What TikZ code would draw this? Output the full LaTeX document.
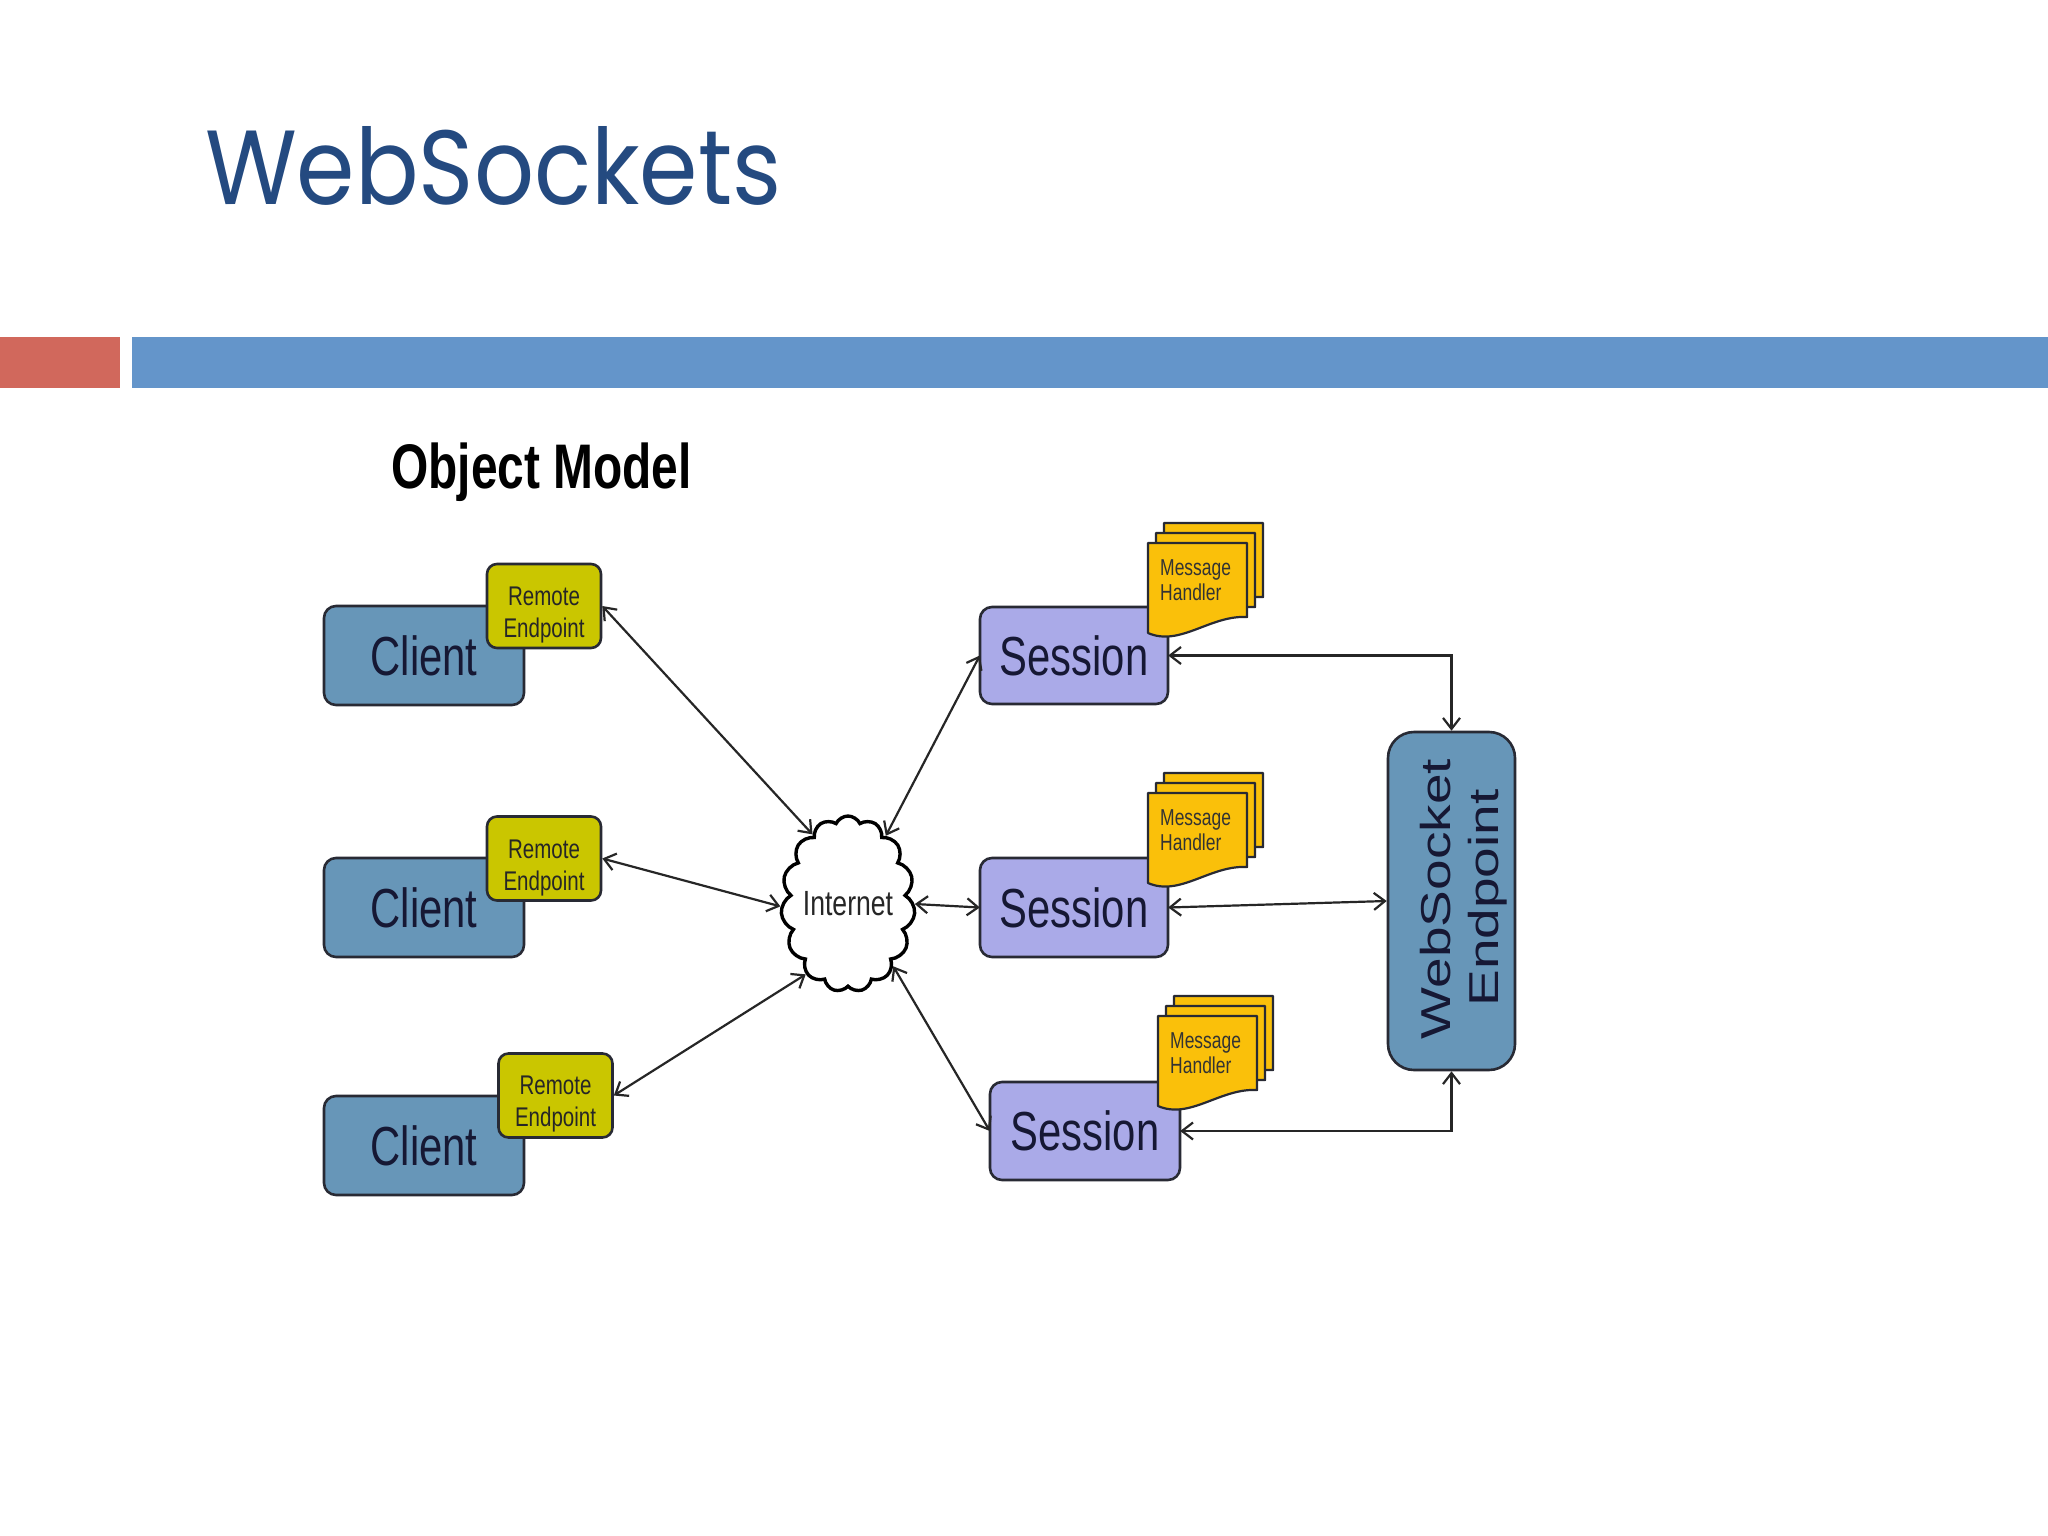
\documentclass[tikz,border=0pt]{standalone}
\usepackage{fontspec}
\usepackage{graphicx}
\usetikzlibrary{arrows.meta,shapes.symbols,calc}
\newfontfamily\titlefont{Poppins}
\newfontfamily\nf[FakeStretch=0.76]{Liberation Sans}
\newfontfamily\wf{Liberation Sans}
\definecolor{titleblue}{RGB}{36,74,128}
\definecolor{barred}{RGB}{209,104,92}
\definecolor{barblue}{RGB}{100,149,202}
\definecolor{steel}{RGB}{103,150,184}
\definecolor{lav}{RGB}{170,170,232}
\definecolor{olive}{RGB}{202,198,0}
\definecolor{amber}{RGB}{250,192,10}
\definecolor{edge}{RGB}{40,42,52}
\definecolor{ink}{RGB}{22,24,52}
\begin{document}
\begin{tikzpicture}[x=1pt,y=-1pt,
  box/.style={draw=edge, line width=2.6pt, rounded corners=12pt},
  clientbox/.style={box, fill=steel},
  sessbox/.style={box, fill=lav},
  rebox/.style={box, fill=olive, rounded corners=10pt},
  mhsheet/.style={draw=edge, line width=2.2pt, fill=amber, line join=round},
  bigtxt/.style={inner sep=0pt, text=ink, font=\nf\fontsize{55}{60}\selectfont},
  retxt/.style={inner sep=0pt, text=black!85, font=\nf\fontsize{27}{30}\selectfont, anchor=base},
  mhtxt/.style={inner sep=0pt, text=black!80, font=\nf\fontsize{23}{26}\selectfont, anchor=base west},
  wstxt/.style={inner sep=0pt, text=ink, rotate=90, anchor=base},
  conn/.style={draw=black!85, line width=2.2pt,
    {Straight Barb[length=11pt,width=17pt,line width=2.2pt]}-{Straight Barb[length=11pt,width=17pt,line width=2.2pt]}}
]
\fill[white] (0,0) rectangle (2048,1536);
\useasboundingbox (0,0) rectangle (2048,1536);

% title and bars
\node[inner sep=0pt, anchor=base west, text=titleblue] (title) at (205,204)
  {\resizebox{576pt}{78pt}{\titlefont WebSockets}};
\fill[barred] (0,337) rectangle (120,388);
\fill[barblue] (132,337) rectangle (2048,388);

\node[inner sep=0pt, anchor=base west, text=black, font=\nf\bfseries\fontsize{63}{70}\selectfont] (om) at (391,488) {Object Model};

% clients
\draw[clientbox] (324,606) rectangle (524,705);
\draw[clientbox] (324,858) rectangle (524,957);
\draw[clientbox] (324,1096) rectangle (524,1195);
\node[bigtxt] (c1) at (424,656) {Client};
\node[bigtxt] (c2) at (424,908) {Client};
\node[bigtxt] (c3) at (424,1146) {Client};

% remote endpoints
\node[rebox, minimum width=114pt, minimum height=84pt, inner sep=0pt] (re1) at (544,606) {};
\node[rebox, minimum width=114pt, minimum height=84pt, inner sep=0pt] (re2) at (544,858.5) {};
\node[rebox, minimum width=114pt, minimum height=84pt, inner sep=0pt] (re3) at (555.5,1095.5) {};
\foreach \n/\x/\t in {a/544/564, b/544/817, c/555.5/1053} {
  \node[retxt] (rem\n) at (\x,\t+41) {Remote};
  \node[retxt] (end\n) at (\x,\t+73) {Endpoint};
}

% cloud
\node[cloud, draw=black, line width=3.4pt, fill=white, cloud puffs=15, cloud puff arc=130,
  cloud ignores aspect, minimum width=134pt, minimum height=176pt, inner sep=0pt,
  font=\nf\fontsize{35}{38}\selectfont, text=black!85] (cloud) at (848,904) {Internet};

% sessions
\draw[sessbox] (980,607) rectangle (1168,704);
\draw[sessbox] (980,858) rectangle (1168,957);
\draw[sessbox] (990,1082) rectangle (1180,1180);
\node[inner sep=0pt, minimum width=188pt, minimum height=97pt] (s1) at (1074,655.5) {};
\node[inner sep=0pt, minimum width=188pt, minimum height=99pt] (s2) at (1074,907.5) {};
\node[inner sep=0pt, minimum width=190pt, minimum height=98pt] (s3) at (1085,1131) {};
\node[bigtxt] (s1t) at (1074,656) {Session};
\node[bigtxt] (s2t) at (1074,908) {Session};
\node[bigtxt] (s3t) at (1085,1131) {Session};

% message handler stacks
\foreach \n/\mx/\my in {a/1148/543, b/1148/793, c/1158/1016} {
  \foreach \d in {2,1,0} {
    \draw[mhsheet, shift={(\mx+8*\d,\my-10*\d)}]
      (0,0) -- (99,0) -- (99,74) .. controls (62,72) and (32,104) .. (0,90) -- cycle;
  }
  \node[mhtxt] (msg\n) at (\mx+12,\my+32) {Message};
  \node[mhtxt] (hnd\n) at (\mx+12,\my+57) {Handler};
}

% websocket endpoint
\node[draw=edge, line width=2.6pt, fill=steel, rounded corners=26pt,
  minimum width=127pt, minimum height=338pt, inner sep=0pt] (ws) at (1451.5,901) {};
\node[wstxt] (wst1) at (1450,899) {\scalebox{1}[0.76]{\wf\fontsize{55}{60}\selectfont WebSocket}};
\node[wstxt] (wst2) at (1498,898) {\scalebox{1}[0.76]{\wf\fontsize{55}{60}\selectfont Endpoint}};

% connectors
\draw[conn] (re1.east) -- (cloud.117);
\draw[conn] (re2.east) -- (cloud.182);
\draw[conn] (re3.east) -- (cloud.239);
\draw[conn] (cloud.61) -- (s1.west);
\draw[conn] (cloud.east) -- (s2.west);
\draw[conn] (cloud.306) -- (s3.west);
\draw[conn] (s1.east) -| (ws.north);
\draw[conn] (s2.east) -- (ws.west);
\draw[conn] (s3.east) -| (ws.south);
\end{tikzpicture}
\end{document}
